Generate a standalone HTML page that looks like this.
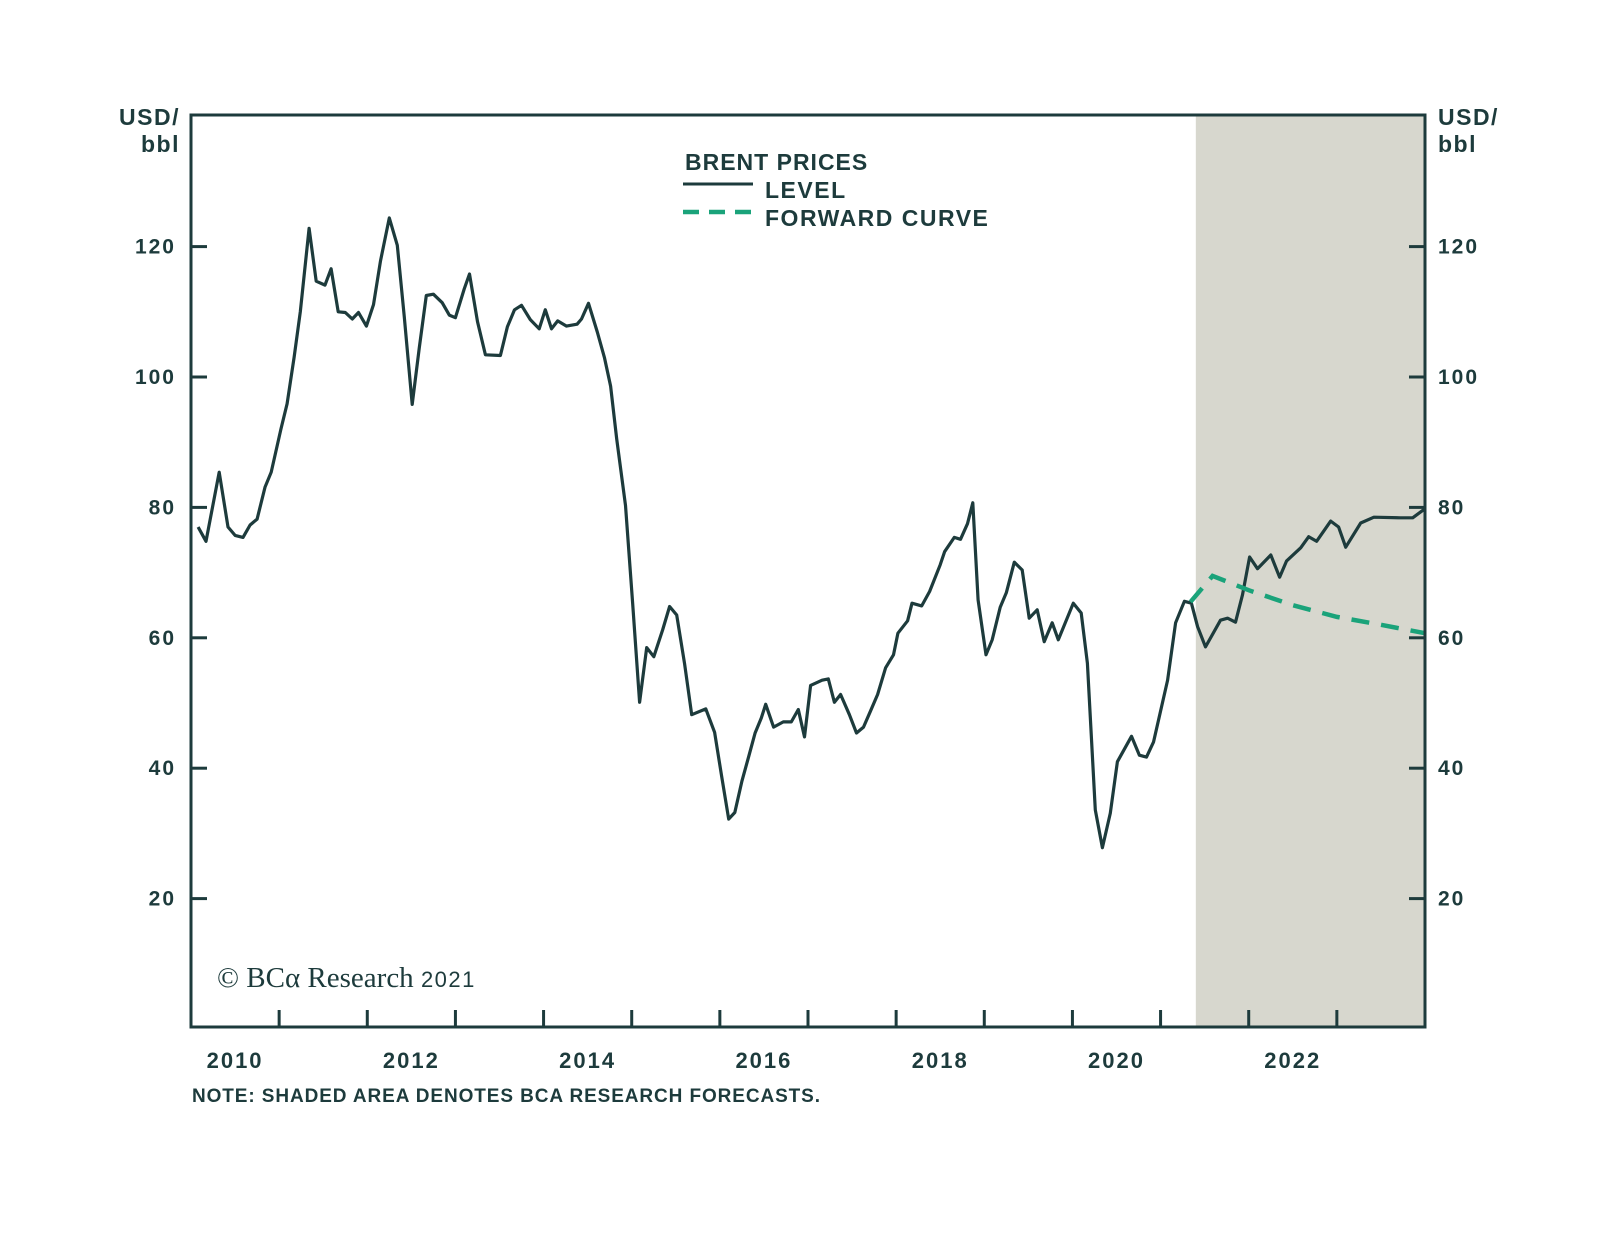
<!DOCTYPE html>
<html><head><meta charset="utf-8"><style>
body{margin:0;background:#fff}
svg{display:block}
text{font-family:"Liberation Sans",sans-serif;fill:#1d3b3c;font-weight:bold}
</style></head><body>
<svg id="chart" width="1600" height="1239" viewBox="0 0 1600 1239" xmlns="http://www.w3.org/2000/svg">
<rect id="shade" fill="#d7d7ce"/>
<g id="ticks"></g>
<path id="level" fill="none" stroke="#1d3b3c" stroke-width="3.2" stroke-linejoin="round"/>
<path id="fwd" fill="none" stroke="#1aa37a" stroke-width="4.5" stroke-dasharray="18,12"/>
<rect x="191" y="115" width="1234" height="912" fill="none" stroke="#1d3b3c" stroke-width="3"/>
<text x="180" y="125" text-anchor="end" font-size="23" letter-spacing="1.5">USD/</text>
<text x="180" y="152" text-anchor="end" font-size="23" letter-spacing="1.5">bbl</text>
<text x="1438" y="125" font-size="23" letter-spacing="1.5">USD/</text>
<text x="1438" y="152" font-size="23" letter-spacing="1.5">bbl</text>
<g>
<text x="685" y="170" font-size="23" letter-spacing="1">BRENT PRICES</text>
<line x1="683" y1="184" x2="753" y2="184" stroke="#1d3b3c" stroke-width="3"/>
<text x="765" y="198" font-size="23" letter-spacing="1.5">LEVEL</text>
<line x1="683" y1="212" x2="753" y2="212" stroke="#1aa37a" stroke-width="4.5" stroke-dasharray="16,10"/>
<text x="765" y="226" font-size="23" letter-spacing="1.5">FORWARD CURVE</text>
</g>
<text x="217" y="987" font-size="29" style="font-family:'Liberation Serif',serif;font-weight:normal">© BCα Research <tspan style="font-family:'Liberation Sans',sans-serif" font-size="22" letter-spacing="1.5">2021</tspan></text>
<text x="192" y="1102" font-size="19" letter-spacing="0.9">NOTE: SHADED AREA DENOTES BCA RESEARCH FORECASTS.</text>
</svg>
<script>
const yTicks=[20,40,60,80,100,120];
const yearLabels=[2010,2012,2014,2016,2018,2020,2022];
const forecastStart=2021.4;
const levelDates=[2010.08,2010.17,2010.32,2010.42,2010.50,2010.59,2010.67,2010.75,2010.84,2010.91,2011.02,2011.09,2011.17,2011.24,2011.34,2011.42,2011.52,2011.59,2011.67,2011.75,2011.83,2011.90,2011.99,2012.07,2012.15,2012.25,2012.34,2012.42,2012.51,2012.59,2012.67,2012.75,2012.85,2012.93,2013.00,2013.10,2013.16,2013.25,2013.34,2013.51,2013.59,2013.67,2013.75,2013.85,2013.95,2014.02,2014.09,2014.16,2014.26,2014.38,2014.43,2014.51,2014.61,2014.69,2014.76,2014.83,2014.93,2015.01,2015.09,2015.17,2015.25,2015.35,2015.43,2015.51,2015.60,2015.68,2015.84,2015.94,2016.02,2016.10,2016.17,2016.25,2016.33,2016.40,2016.47,2016.52,2016.61,2016.72,2016.81,2016.89,2016.96,2017.03,2017.16,2017.23,2017.30,2017.37,2017.47,2017.55,2017.63,2017.71,2017.79,2017.88,2017.97,2018.02,2018.13,2018.18,2018.29,2018.38,2018.50,2018.55,2018.66,2018.73,2018.81,2018.87,2018.93,2019.02,2019.09,2019.18,2019.25,2019.34,2019.43,2019.51,2019.60,2019.68,2019.77,2019.84,2020.01,2020.10,2020.17,2020.26,2020.34,2020.43,2020.51,2020.67,2020.76,2020.84,2020.92,2021.08,2021.17,2021.27,2021.35,2021.42,2021.51,2021.68,2021.76,2021.85,2021.93,2022.01,2022.10,2022.25,2022.35,2022.43,2022.59,2022.68,2022.77,2022.93,2023.02,2023.10,2023.27,2023.42,2023.72,2023.86,2024.00];
const levelValues=[77.0,74.8,85.4,77.0,75.7,75.4,77.3,78.2,83.1,85.4,92.0,95.9,103.0,110.0,122.8,114.7,114.1,116.6,110.0,109.9,108.9,109.9,107.8,111.1,117.8,124.4,120.2,109.2,95.8,104.5,112.5,112.7,111.4,109.5,109.1,113.5,115.8,108.5,103.4,103.3,107.7,110.3,111.0,108.8,107.4,110.3,107.4,108.6,107.8,108.1,108.9,111.3,106.9,103.0,98.6,90.5,80.3,65.4,50.1,58.5,57.1,61.2,64.8,63.5,56.0,48.2,49.1,45.5,38.8,32.2,33.2,38.0,41.9,45.4,47.7,49.8,46.3,47.1,47.1,49.0,44.8,52.7,53.5,53.7,50.1,51.3,48.2,45.4,46.3,48.8,51.3,55.4,57.4,60.7,62.6,65.3,64.9,67.1,71.2,73.2,75.4,75.1,77.5,80.7,65.8,57.4,59.7,64.7,66.9,71.6,70.4,63.0,64.3,59.4,62.3,59.7,65.3,63.8,56.1,33.6,27.8,33.1,41.0,44.9,42.0,41.7,44.0,53.5,62.3,65.6,65.3,61.7,58.6,62.7,63.0,62.4,66.6,72.4,70.6,72.7,69.3,71.8,73.8,75.5,74.8,77.9,77.0,73.9,77.6,78.5,78.4,78.4,79.8];
const fwdDates=[2021.34,2021.59,2022.0,2022.5,2023.0,2023.5,2024.0];
const fwdValues=[65.5,69.5,67.3,65.0,63.2,62.0,60.7];

const L=191,R=1425,T=115,B=1027;
const x=yr=>L+(yr-2010)*(R-L)/14;
const y=v=>1029-v*6.52;
const NS='http://www.w3.org/2000/svg';
const sh=document.getElementById('shade');
sh.setAttribute('x',x(forecastStart));sh.setAttribute('y',T);
sh.setAttribute('width',R-x(forecastStart));sh.setAttribute('height',B-T);
const g=document.getElementById('ticks');
function mk(tag,attrs,txt){const e=document.createElementNS(NS,tag);for(const k in attrs)e.setAttribute(k,attrs[k]);if(txt!==undefined)e.textContent=txt;g.appendChild(e);return e;}
yTicks.forEach(v=>{
  const l1=mk('line',{x1:L,x2:L+16,y1:y(v),y2:y(v),stroke:'#1d3b3c','stroke-width':3});
  
  
  const l2=mk('line',{x1:R-16,x2:R,y1:y(v),y2:y(v),stroke:'#1d3b3c','stroke-width':3});
  
  
  const t1=mk('text',{x:176,y:y(v)+7,'text-anchor':'end','font-size':21,'letter-spacing':2},String(v));
  
  
  const t2=mk('text',{x:1438,y:y(v)+7,'font-size':21,'letter-spacing':2},String(v));
  
  
});
for(let yr=2011;yr<=2023;yr++){
  const l=mk('line',{x1:x(yr),x2:x(yr),y1:B-17,y2:B,stroke:'#1d3b3c','stroke-width':3});
  
  
}
yearLabels.forEach(yr=>{
  const t=mk('text',{x:x(yr+0.5),y:1068,'text-anchor':'middle','font-size':22,'letter-spacing':2},String(yr));
  
  
});
document.getElementById('level').setAttribute('d',levelDates.map((d,i)=>(i?'L':'M')+x(d).toFixed(1)+','+y(levelValues[i]).toFixed(1)).join(''));
document.getElementById('fwd').setAttribute('d',fwdDates.map((d,i)=>(i?'L':'M')+x(d).toFixed(1)+','+y(fwdValues[i]).toFixed(1)).join(''));
</script>
</body></html>
